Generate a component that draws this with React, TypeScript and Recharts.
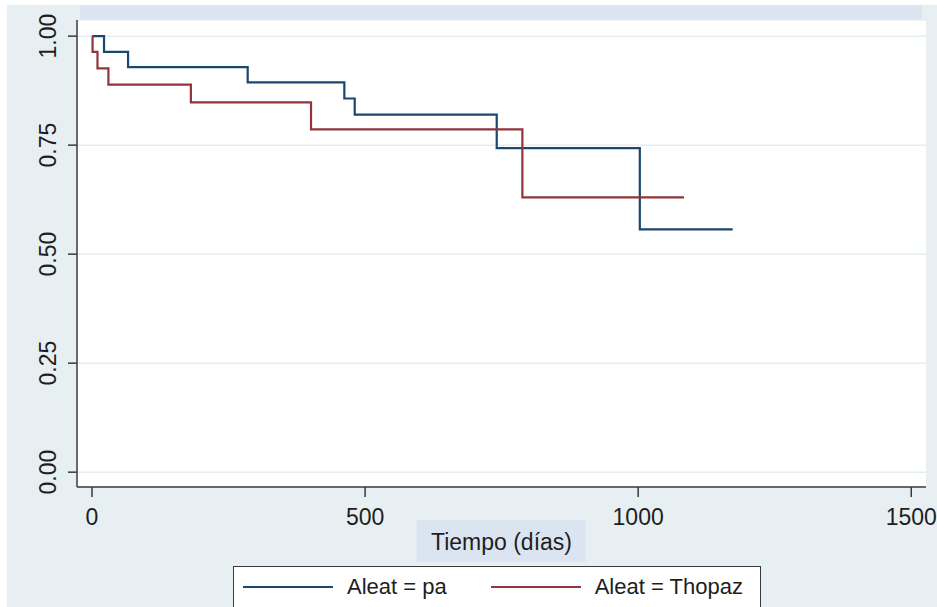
import React from 'react'
import {
  LineChart,
  Line,
  XAxis,
  YAxis,
  CartesianGrid,
  Legend,
} from 'recharts'

// Kaplan-Meier estimates by group, read as (time, survival) steps
const paTimes = [0, 22, 66, 285, 462, 481, 741, 1003, 1173]
const paSurv = [1.0, 0.964, 0.929, 0.894, 0.857, 0.82, 0.743, 0.557, 0.557]

const thopazTimes = [0, 1, 10, 30, 181, 401, 788, 1084]
const thopazSurv = [1.0, 0.964, 0.926, 0.889, 0.848, 0.786, 0.63, 0.63]

const xTicks = [0, 500, 1000, 1500]
const yTicks = [0, 0.25, 0.5, 0.75, 1]

const seriesNames = ['Aleat = pa', 'Aleat = Thopaz']
const axisTitle = 'Tiempo (días)'

const toSteps = (times: number[], surv: number[]) =>
  times.map((t, i) => ({ t, s: surv[i] }))

const paData = toSteps(paTimes, paSurv)
const thopazData = toSteps(thopazTimes, thopazSurv)

const FONT = '"Liberation Sans", Arial, sans-serif'
const TEXT = '#1e1e1e'
const AXIS = '#3a3a3a'
const NAVY = '#1a476f'
const MAROON = '#90353b'
const PANEL = '#e8eff2'
const HIGHLIGHT = '#dbe5f1'

function YTick(props: any) {
  const { x, y, payload } = props
  return (
    <g transform={`translate(${x - 20},${y}) rotate(-90)`}>
      <text
        x={0}
        y={0}
        textAnchor="middle"
        dominantBaseline="central"
        fill={TEXT}
        fontSize={23}
        fontFamily={FONT}
      >
        {Number(payload.value).toFixed(2)}
      </text>
    </g>
  )
}

function AxisTitle(props: any) {
  const vb = props.viewBox
  const cx = vb.x + vb.width / 2
  return (
    <g>
      <rect x={cx - 85} y={vb.y + 33} width={169} height={42} fill={HIGHLIGHT} />
      <text
        x={cx}
        y={vb.y + 55}
        textAnchor="middle"
        dominantBaseline="central"
        fill={TEXT}
        fontSize={23}
        fontFamily={FONT}
      >
        {axisTitle}
      </text>
    </g>
  )
}

// keep the key in series order rather than alphabetical
function LegendBox(props: any) {
  const { payload = [] } = props
  const items = seriesNames
    .map(name => payload.find((p: any) => p.value === name))
    .filter(Boolean)
  return (
    <div style={styles.legend}>
      {items.map((entry: any, i: number) => (
        <div key={`leg-${i}`} style={styles.legendItem}>
          <span style={{ ...styles.legendLine, background: entry.color }} />
          <span>{entry.value}</span>
        </div>
      ))}
    </div>
  )
}

export default function App() {
  return (
    <div style={styles.page}>
      <div style={styles.panel} />
      <div style={styles.band} />
      <LineChart
        width={937}
        height={607}
        margin={{ top: 20, right: 11, bottom: 60, left: 0 }}
        style={{ position: 'absolute', left: 0, top: 0 }}
      >
        <CartesianGrid
          vertical={false}
          stroke="#e6eef0"
          strokeWidth={1.5}
          fill="#ffffff"
        />
        <XAxis
          type="number"
          dataKey="t"
          domain={[-27.5, 1527]}
          ticks={xTicks}
          allowDataOverflow
          stroke={AXIS}
          strokeWidth={1.5}
          tickSize={10}
          tickMargin={12}
          height={60}
          tick={{ fill: TEXT, fontSize: 23, fontFamily: FONT }}
          label={{ content: AxisTitle }}
        />
        <YAxis
          type="number"
          domain={[-0.034, 1.037]}
          ticks={yTicks}
          allowDataOverflow
          width={77}
          stroke={AXIS}
          strokeWidth={1.5}
          tickSize={9}
          tickMargin={0}
          tick={<YTick />}
        />
        <Legend
          layout="horizontal"
          align="center"
          verticalAlign="middle"
          wrapperStyle={{ left: 233, top: 566, width: 528, height: 52 }}
          content={<LegendBox />}
        />
        <Line
          data={paData}
          dataKey="s"
          name={seriesNames[0]}
          type="stepAfter"
          stroke={NAVY}
          strokeWidth={2.2}
          dot={false}
          activeDot={false}
          isAnimationActive={false}
        />
        <Line
          data={thopazData}
          dataKey="s"
          name={seriesNames[1]}
          type="stepAfter"
          stroke={MAROON}
          strokeWidth={2.2}
          dot={false}
          activeDot={false}
          isAnimationActive={false}
        />
      </LineChart>
    </div>
  )
}

const styles = {
  page: {
    position: 'absolute',
    left: 0,
    top: 0,
    width: 937,
    height: 607,
    overflow: 'hidden',
    background: '#ffffff',
  },
  panel: {
    position: 'absolute',
    left: 7,
    top: 5,
    width: 930,
    height: 602,
    background: PANEL,
  },
  band: {
    position: 'absolute',
    left: 80,
    top: 5,
    width: 842,
    height: 15,
    background: HIGHLIGHT,
  },
  legend: {
    boxSizing: 'border-box',
    width: 528,
    height: 52,
    background: '#ffffff',
    border: `1.5px solid ${AXIS}`,
    display: 'flex',
    alignItems: 'flex-start',
    paddingTop: 7,
    paddingLeft: 9,
    gap: 44,
    fontFamily: FONT,
    fontSize: 22,
    lineHeight: '26px',
    color: TEXT,
  },
  legendItem: {
    display: 'flex',
    alignItems: 'center',
    gap: 14,
  },
  legendLine: {
    display: 'inline-block',
    width: 90,
    height: 2,
  },
} as const
